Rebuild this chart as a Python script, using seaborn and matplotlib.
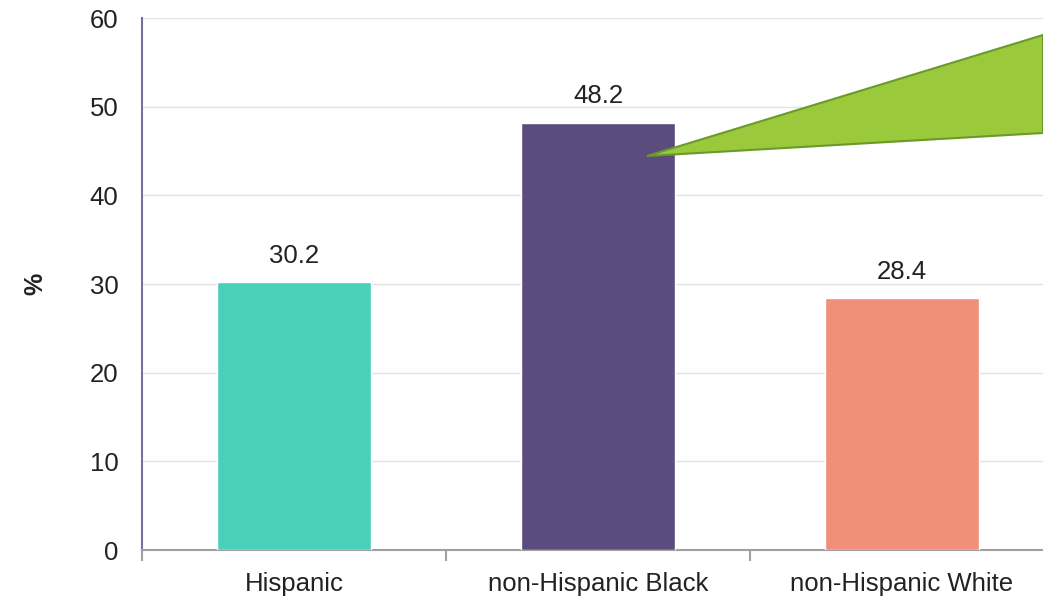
import seaborn as sns
import matplotlib.pyplot as plt
from matplotlib.patches import Polygon
import pandas as pd

# data
groups = ["Hispanic", "non-Hispanic Black", "non-Hispanic White"]
values = [30.2, 48.2, 28.4]
bar_colors = ["#4ACFBA", "#5A4C7C", "#F08F7A"]
y_ticks = [0, 10, 20, 30, 40, 50, 60]

df = pd.DataFrame({"group": groups, "pct": values})

sns.set_theme(style="white")
plt.rcParams["font.family"] = ["Liberation Sans", "DejaVu Sans"]

W, H = 1043, 599
fig = plt.figure(figsize=(W / 100, H / 100), dpi=100)
# axes runs past the right edge like the original
ax = fig.add_axes([142 / W, (H - 550) / H, 912 / W, 532 / H])

sns.barplot(data=df, x="group", y="pct", hue="group", palette=bar_colors,
            saturation=1, width=0.507, legend=False, ax=ax, zorder=3)

ax.set_xlim(-0.5, 2.5)
ax.set_ylim(0, 60)
ax.set_yticks(y_ticks)
ax.yaxis.grid(True, color="#E3E3E3", lw=1, zorder=0)
ax.set_axisbelow(True)

for sp in ["top", "right"]:
    ax.spines[sp].set_visible(False)
ax.spines["left"].set_color("#7A6E9E")
ax.spines["left"].set_linewidth(1.5)
ax.spines["bottom"].set_color("#A0A0A0")
ax.spines["bottom"].set_linewidth(1.5)

ax.tick_params(axis="y", length=7, width=1.5, color="#7A6E9E", direction="out",
               labelsize=18.5, labelcolor="#222222", pad=10)
ax.tick_params(axis="x", length=0, labelsize=18.5, labelcolor="#222222", pad=16)
# category boundary ticks on the x axis
ax.set_xticks([-0.5, 0.5, 1.5], minor=True)
ax.tick_params(axis="x", which="minor", length=8, width=1.5, color="#A0A0A0",
               direction="out", bottom=True)

ax.set_xlabel("")
ax.set_ylabel("%", fontsize=18, fontweight="bold", color="#222222")
ax.yaxis.set_label_coords(-0.104, 0.5)

for i, v in enumerate(values):
    ax.text(i, v + 1.6, f"{v:.1f}", ha="center", va="bottom", fontsize=18.5, color="#222222")

# green callout wedge pointing at the middle bar
tri = Polygon([[647 / W, (H - 156) / H], [1043 / W, (H - 35) / H], [1043 / W, (H - 133) / H]],
              closed=True, transform=fig.transFigure, facecolor="#9ACA3C",
              edgecolor="#6A9A2A", lw=1.5, zorder=5)
fig.patches.append(tri)

fig.savefig("out.png", dpi=100)
